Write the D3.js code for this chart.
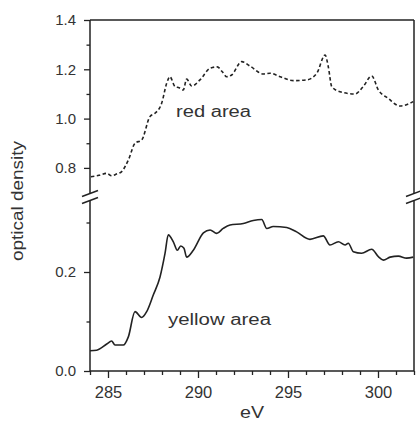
<!DOCTYPE html>
<html><head><meta charset="utf-8">
<script src="https://cdn.jsdelivr.net/npm/d3@7"></script>
<style>body{margin:0;background:#fff}svg{display:block}text{font-family:"Liberation Sans",Arial,sans-serif;fill:#333}</style>
</head><body><svg id="c" width="420" height="423"></svg>
<script>
// red area (upper panel)
const redX = [284.05,284.5,284.93,285.2,285.5,285.76,286.13,286.5,286.87,287.33,287.6,287.98,288.26,288.44,288.72,288.95,289.18,289.37,289.65,290.11,290.67,291.07,291.35,291.6,291.87,292.43,292.89,293.63,294.0,294.56,295.3,296.04,296.6,297.06,297.24,297.43,297.89,298.72,299.18,299.65,300.02,300.57,301.22,301.96];
const redY = [0.764,0.770,0.778,0.768,0.776,0.785,0.832,0.900,0.913,1.008,1.021,1.062,1.143,1.170,1.130,1.125,1.116,1.160,1.132,1.157,1.204,1.210,1.190,1.170,1.177,1.231,1.213,1.181,1.184,1.170,1.154,1.157,1.184,1.258,1.210,1.130,1.109,1.100,1.130,1.173,1.116,1.082,1.051,1.069];
// yellow area (lower panel)
const yelX = [284.0,284.37,284.93,285.2,285.39,285.85,286.13,286.5,286.87,287.15,287.52,287.89,288.17,288.35,288.63,288.85,289.04,289.22,289.37,289.74,290.3,290.67,291.04,291.4,291.78,292.52,293.07,293.54,293.82,294.18,294.93,295.48,296.22,296.96,297.33,297.8,298.17,298.35,298.63,299.09,299.65,300.02,300.3,300.67,301.13,301.59,301.96];
const yelY = [0.041,0.042,0.0545,0.0606,0.0525,0.0525,0.069,0.120,0.108,0.120,0.154,0.190,0.238,0.275,0.261,0.244,0.2525,0.248,0.230,0.244,0.279,0.285,0.278,0.288,0.295,0.298,0.304,0.306,0.288,0.292,0.290,0.281,0.266,0.273,0.2545,0.261,0.2545,0.258,0.241,0.238,0.246,0.231,0.224,0.230,0.232,0.228,0.230];
const xTicks = [285,290,295,300];
const upperTicks = [0.8,1.0,1.2,1.4];
const upperMinor = [0.9,1.1,1.3];
const lowerTicks = [0.0,0.2];
const lowerMinor = [0.1,0.3];
const labels = {x:"eV", y:"optical density", red:"red area", yellow:"yellow area"};

const svg = d3.select("#c");
const L=90, R=414, T=20, B=371, BRK=197;
const x = d3.scaleLinear().domain([284,302]).range([L,R]);
const yU = d3.scaleLinear().domain([1.4-(BRK-T)/246.5,1.4]).range([BRK,T]);
const yL = d3.scaleLinear().domain([0,(B-BRK)/495]).range([B,BRK]);
const ink="#222";

// lines
const lineU = d3.line().x((d,i)=>x(redX[i])).y(d=>yU(d)).curve(d3.curveMonotoneX);
const lineL = d3.line().x((d,i)=>x(yelX[i])).y(d=>yL(d)).curve(d3.curveMonotoneX);
svg.append("path").attr("d",lineU(redY)).attr("fill","none").attr("stroke","#222").attr("stroke-width",1.6).attr("stroke-dasharray","3.5,2.5");
svg.append("path").attr("d",lineL(yelY)).attr("fill","none").attr("stroke","#222").attr("stroke-width",1.6);

// frame
svg.append("line").attr("x1",L).attr("x2",R).attr("y1",T).attr("y2",T).attr("stroke",ink).attr("stroke-width",1.5);
svg.append("line").attr("x1",L).attr("x2",R).attr("y1",B).attr("y2",B).attr("stroke",ink).attr("stroke-width",1.5);
[L,R].forEach(xx=>{
  svg.append("line").attr("x1",xx).attr("x2",xx).attr("y1",T).attr("y2",BRK-3).attr("stroke",ink).attr("stroke-width",1.5);
  svg.append("line").attr("x1",xx).attr("x2",xx).attr("y1",BRK+3).attr("y2",B).attr("stroke",ink).attr("stroke-width",1.5);
  [-3.5,3.5].forEach(o=>svg.append("line").attr("x1",xx-8).attr("x2",xx+8).attr("y1",BRK+o+3).attr("y2",BRK+o-3).attr("stroke",ink).attr("stroke-width",1.5));
});

// x axis
const xa = svg.append("g").attr("class","xax").attr("transform",`translate(0,${B})`).call(d3.axisBottom(x).tickValues(xTicks).tickSize(7).tickFormat(d3.format("d")));
svg.append("g").attr("transform",`translate(0,${B})`).call(d3.axisBottom(x).tickValues(d3.range(284,303,1).filter(v=>!xTicks.includes(v))).tickSize(4).tickFormat(""));
// y axes
svg.append("g").attr("class","yax").attr("transform",`translate(${L},0)`).call(d3.axisLeft(yU).tickValues(upperTicks).tickSize(6).tickFormat(d3.format(".1f")));
svg.append("g").attr("transform",`translate(${L},0)`).call(d3.axisLeft(yU).tickValues(upperMinor).tickSize(3.5).tickFormat(""));
svg.append("g").attr("class","yax").attr("transform",`translate(${L},0)`).call(d3.axisLeft(yL).tickValues(lowerTicks).tickSize(6).tickFormat(d3.format(".1f")));
svg.append("g").attr("transform",`translate(${L},0)`).call(d3.axisLeft(yL).tickValues(lowerMinor).tickSize(3.5).tickFormat(""));
svg.selectAll(".domain").remove();
svg.selectAll(".tick line").attr("stroke",ink).attr("stroke-width",1.3);
svg.selectAll(".tick text").style("font-family","'Liberation Sans',Arial,sans-serif").attr("fill","#333");
svg.selectAll(".xax .tick text").style("font-size","16.5px").attr("dy","1.05em");
svg.selectAll(".yax .tick text").style("font-size","15px").attr("x",-14);

function lab(t,len,size){ return t.style("font-size",size+"px").attr("textLength",len).attr("lengthAdjust","spacingAndGlyphs"); }
lab(svg.append("text").attr("x",(L+R)/2-12).attr("y",418).text(labels.x),24,17);
lab(svg.append("text").attr("transform","translate(23,261) rotate(-90)").text(labels.y),120,16);
lab(svg.append("text").attr("x",176).attr("y",117).text(labels.red),75,16);
lab(svg.append("text").attr("x",168).attr("y",325).text(labels.yellow),103,16);
</script></body></html>
